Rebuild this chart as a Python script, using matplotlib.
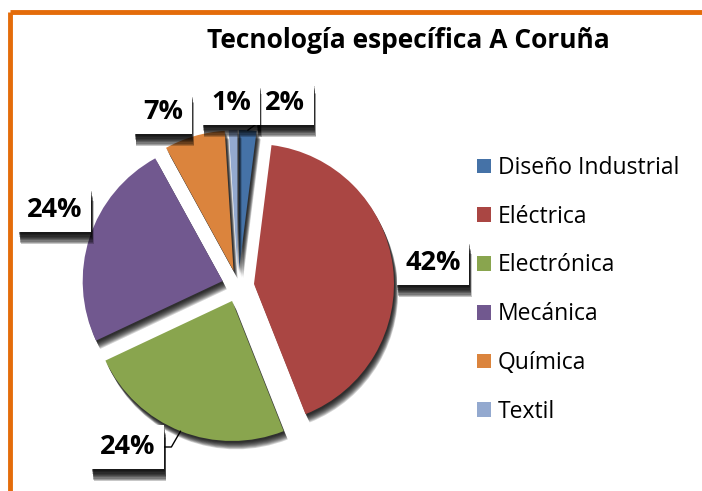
import numpy as np
import matplotlib
matplotlib.use("Agg")
import matplotlib.pyplot as plt
import matplotlib.patheffects as pe
from matplotlib.lines import Line2D
from matplotlib.patches import Patch

plt.rcParams['font.family'] = ['Open Sans', 'DejaVu Sans']

# data
categories = ['Diseño Industrial', 'Eléctrica', 'Electrónica', 'Mecánica', 'Química', 'Textil']
values = [2, 42, 24, 24, 7, 1]
colors = ['#4572A7', '#AA4643', '#89A54E', '#71588F', '#DB843D', '#93A9CF']
title = 'Tecnología específica A Coruña'

# layout (pie radius units, centre of pie = 0,0)
W, H = 702, 491
cx, cy, R = 238, 286, 140
label_pos = [(0.336, 1.307), (1.393, 0.164), (-0.786, -1.15),
             (-1.307, 0.543), (-0.536, 1.243), (-0.05, 1.307)]
leader = [True, False, True, False, False, False]


def soft_shadow(dx, dy, alpha, n=9):
    # stacked offset copies give a rough blurred drop shadow
    fx = [pe.SimplePatchShadow(offset=(dx * s, dy * s), shadow_rgbFace='black', alpha=alpha)
          for s in np.linspace(0.2, 1.0, n)]
    return fx + [pe.Normal()]


fig = plt.figure(figsize=(W / 100, H / 100), dpi=100)
ax = fig.add_axes([0, 0, 1, 1])

wedges, _ = ax.pie(values, colors=colors, startangle=90, counterclock=False,
                   explode=[0.115] * len(values), radius=1,
                   wedgeprops=dict(edgecolor='none'))
for w in wedges:
    w.set_path_effects(soft_shadow(3, -6, 0.17))

ax.set_xlim(-cx / R, (W - cx) / R)
ax.set_ylim(-(H - cy) / R, cy / R)
ax.set_aspect('auto')
ax.axis('off')

total = sum(values)
for w, v, pos, ld in zip(wedges, values, label_pos, leader):
    mid = np.deg2rad((w.theta1 + w.theta2) / 2)
    anchor = (w.center[0] + w.r * np.cos(mid), w.center[1] + w.r * np.sin(mid))
    kw = {}
    if ld:
        cs = 'arc3' if pos[1] > 0 else 'angle,angleA=0,angleB=60,rad=0'
        kw['arrowprops'] = dict(arrowstyle='-', color='black', lw=1,
                                shrinkA=0, shrinkB=0, connectionstyle=cs)
    t = ax.annotate('%d%%' % round(100 * v / total), xy=anchor, xytext=pos,
                    ha='center', va='center', fontsize=19.5, fontweight='bold',
                    bbox=dict(boxstyle='square,pad=0.32', fc='white', ec='none'), **kw)
    t.get_bbox_patch().set_path_effects(soft_shadow(1.5, -9, 0.22))

fig.text(408 / W, 1 - 41 / H, title, ha='center', va='center',
         fontsize=19, fontweight='bold')

handles = [Patch(facecolor=c, edgecolor='none') for c in colors]
fig.legend(handles, categories, loc='upper left', bbox_to_anchor=(477 / W, 1 - 156 / H),
           frameon=False, fontsize=16.5, handlelength=0.62, handleheight=0.62,
           handletextpad=0.3, labelspacing=1.08, borderpad=0, borderaxespad=0)

# orange frame (top and left edges)
orange = '#E46C0A'
fig.add_artist(Line2D([10 / W, 1], [1 - 12 / H, 1 - 12 / H], color=orange, lw=3.5,
                      transform=fig.transFigure, solid_capstyle='butt'))
fig.add_artist(Line2D([10 / W, 10 / W], [0, 1 - 12 / H], color=orange, lw=3.5,
                      transform=fig.transFigure, solid_capstyle='butt'))

fig.savefig('out.png', dpi=100)
